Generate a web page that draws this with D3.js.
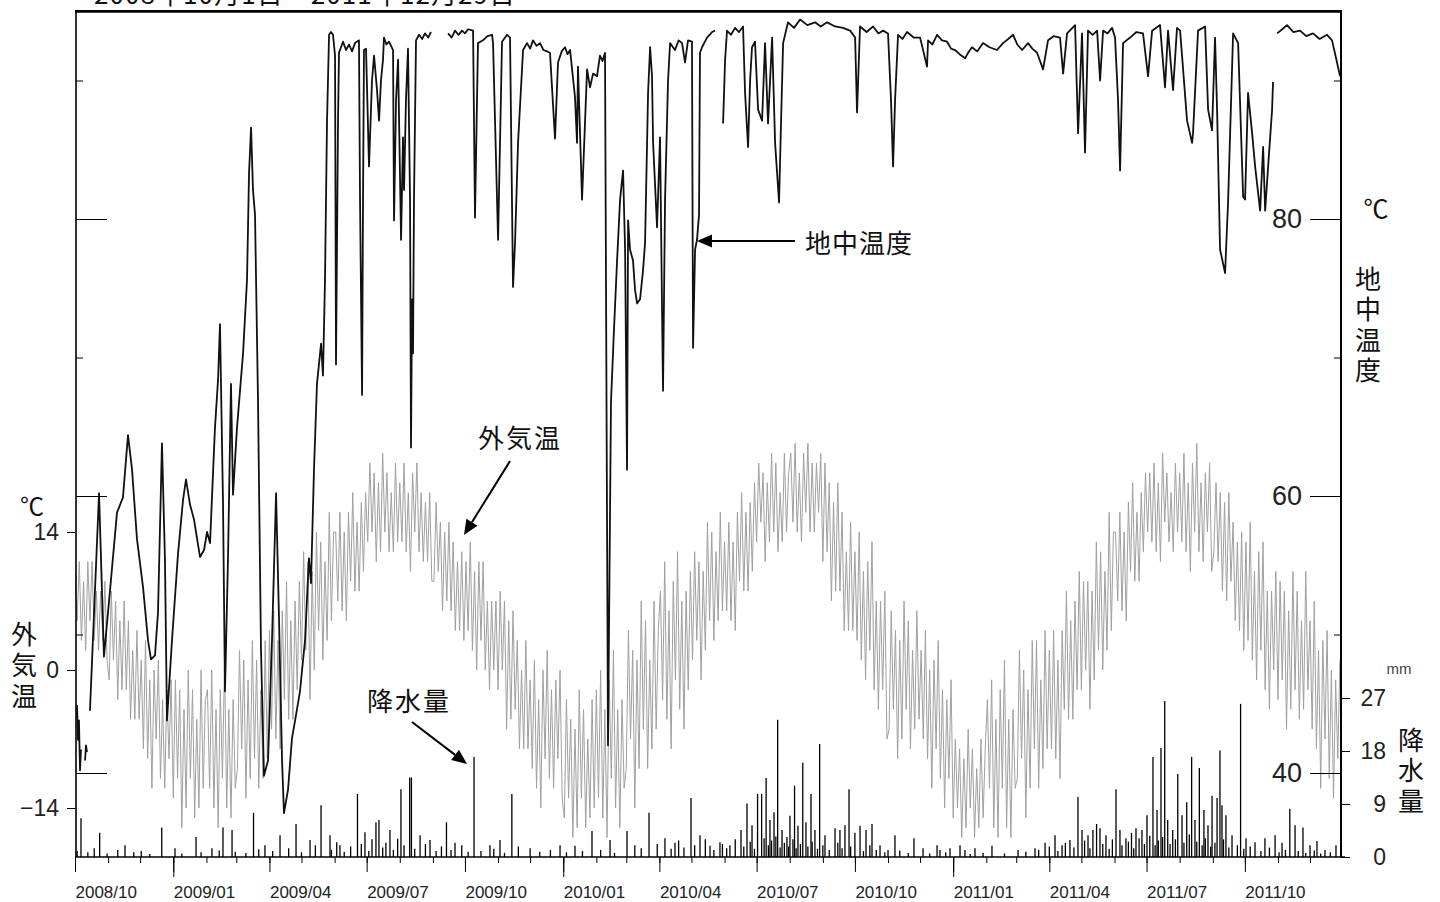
<!DOCTYPE html>
<html>
<head>
<meta charset="utf-8">
<script src="https://cdn.jsdelivr.net/npm/d3@7"></script>
<style>
  body { margin: 0; background: #fff; }
  svg { display: block; }
</style>
</head>
<body>
<div id="grafica"></div>
<script>
// ---- datos ----
inicio = new Date(Date.UTC(2008, 9, 1))   // 2008/10/01
diasTotal = 1185                          // hasta 2011/12/30

// 外気温 (°C): un valor cada 2 días desde inicio
pasoAire = 2
aireTemp = [
  10, 5, 11, 3, 9, 2, 11, 5, 11, 3, 8, 2, 8, 3, 9, 1,                 // 2008/10
  -1, 8, 1, 7, -3, 5, -2, 7, -2, 5, -5, 2, -5, 4, -5,                 // 11
  1, -8, 3, -9, -1, -12, 0, -7, 1, -11, -3, -12, -2, -9, -1,          // 12
  -13, -1, -11, -2, -16, -4, -14, 0, -11, -2, -15, -5, -14, 0, -12, -3, // 2009/01
  -2, -12, 0, -14, -4, -16, -2, -11, 1, -14, -4, -15, -3, -12,        // 02
  -10, 2, -8, 1, -13, -1, -11, 3, -9, 1, -12, -2, -11, 3, -9,         // 03
  4, -6, 6, -7, 3, -8, 6, -3, 9, -5, 5, -5, 7, -2, 9,                 // 04
  1, 12, 2, 11, -3, 10, 0, 14, 4, 13, 1, 11, 3, 16, 5, 14,            // 05
  14, 7, 16, 6, 14, 5, 16, 9, 18, 8, 15, 8, 17, 10, 18,               // 06
  13, 21, 14, 20, 11, 19, 12, 22, 14, 20, 12, 18, 12, 21, 13,         // 07
  19, 13, 21, 12, 18, 10, 20, 14, 21, 12, 18, 11, 17, 11, 18, 9,      // 08
  9, 17, 10, 15, 6, 14, 7, 15, 6, 13, 4, 11, 4, 12, 3,                // 09
  11, 4, 13, 2, 10, 0, 11, 3, 11, 0, 7, -2, 7, 0, 7,                  // 10
  -2, 8, 0, 7, -6, 5, -5, 6, -4, 3, -8, 0, -8, 3, -8,                 // 11
  -1, -10, 1, -12, -3, -14, 0, -9, 2, -11, -2, -12, -1, -9, 0, -13,   // 12
  -15, -3, -13, -5, -17, -6, -16, -2, -13, -4, -16, -7, -15, -3, -14, // 2010/01
  -2, -13, 0, -15, -4, -17, -1, -11, 2, -14, -4, -16, -3, -12,        // 02
  -10, 4, -7, 2, -14, 1, -10, 7, -6, 5, -10, 1, -8, 7, -6, 4,         // 03
  8, -3, 11, -5, 6, -8, 9, -1, 12, -4, 7, -6, 8, -2, 10,              // 04
  1, 12, 3, 11, -1, 10, 2, 15, 5, 14, 3, 12, 5, 16, 6,                // 05
  13, 6, 15, 5, 13, 4, 16, 9, 18, 8, 16, 8, 17, 10, 19,               // 06
  13, 21, 15, 20, 11, 19, 13, 22, 14, 21, 12, 18, 13, 22, 14, 20,     // 07
  22, 15, 23, 14, 20, 13, 22, 16, 23, 14, 21, 14, 21, 16, 22,         // 08
  11, 21, 12, 19, 7, 17, 8, 19, 8, 16, 4, 12, 4, 15, 4,               // 09
  12, 3, 14, 1, 10, -1, 11, 2, 13, -2, 7, -4, 7, -2, 8, -7,           // 10
  -6, 6, -4, 4, -9, 3, -7, 7, -4, 5, -8, 2, -6, 6, -5,                // 11
  2, -7, 4, -9, 0, -12, 1, -8, 3, -11, -2, -14, -3, -11, -1,          // 12
  -15, -7, -14, -8, -17, -9, -16, -6, -14, -8, -17, -10, -16, -7, -15, -8, // 2011/01
  -3, -12, -1, -16, -5, -17, -2, -12, 1, -16, -5, -17, -4, -12,       // 02
  -11, 2, -9, 0, -15, -2, -12, 3, -8, 3, -12, -1, -10, 4, -8,         // 03
  2, -8, 4, -9, 1, -11, 4, -4, 8, -5, 5, -5, 7, -2, 10,               // 04
  -2, 9, 0, 9, -4, 8, -1, 13, 2, 12, 0, 10, 2, 16, 4, 14,             // 05
  14, 7, 16, 6, 14, 5, 17, 10, 19, 9, 16, 9, 18, 12, 20,              // 06
  14, 20, 13, 21, 12, 19, 11, 22, 15, 20, 13, 18, 12, 21, 14,         // 07
  20, 13, 22, 12, 19, 10, 21, 14, 23, 12, 19, 11, 20, 14, 21, 10,     // 08
  12, 19, 11, 18, 8, 17, 7, 18, 9, 15, 5, 13, 4, 14, 2,               // 09
  13, 3, 15, 1, 10, -1, 12, 2, 13, -2, 8, -4, 8, 0, 10,               // 10
  -3, 9, -1, 8, -6, 6, -4, 10, -2, 8, -5, 5, -4, 10, -2,              // 11
  5, -6, 7, -8, 2, -12, 3, -7, 4, -11, 0, -13, -1, -9, 1              // 12
]

// 地中温度 (°C): [días desde inicio, valor], null = sin datos
sueloTemp = [
  [1.9, 44.9], [2.8, 42.4], [3.7, 43.8], [4.7, 40.2], [5.6, 41.7], null,
  [9.4, 40.9], [10.3, 42.0], [11.2, 41.5], null,
  [14.0, 44.5], [22.5, 60.2], [27.1, 48.4], [32.8, 53.2], [39.3, 58.8], [44.9, 59.9],
  [49.6, 64.4], [53.4, 61.9], [58.0, 56.9], [63.7, 53.4], [68.3, 49.6], [71.1, 48.2],
  [74.9, 48.5], [77.7, 51.6], [81.4, 63.8], [84.2, 55.4], [86.1, 43.8], [90.8, 49.6],
  [96.4, 55.8], [101.1, 59.7], [103.9, 61.2], [107.6, 59.4], [111.4, 58.3], [117.0, 55.6],
  [120.8, 56.1], [123.6, 57.4], [126.4, 56.6], [131.0, 64.9], [133.9, 68.4], [135.7, 72.4],
  [138.5, 59.7], [140.4, 45.9], [143.2, 55.4], [146.0, 68.1], [147.9, 60.1], [151.6, 64.9],
  [157.3, 70.3], [161.0, 75.6], [162.9, 83.3], [164.8, 86.6], [166.6, 82.1], [168.5, 80.3],
  [171.3, 66.9], [174.1, 48.9], [176.9, 39.8], [180.7, 40.9], [184.4, 49.6], [188.2, 60.2],
  [191.0, 51.0], [193.8, 40.9], [195.6, 37.1], [199.4, 38.8], [203.1, 42.5], [206.9, 44.2],
  [210.6, 45.9], [215.3, 49.6], [219.0, 55.5], [220.9, 53.7], [223.7, 61.9], [226.5, 68.1],
  [230.3, 71.0], [232.1, 68.7], [234.0, 75.6], [235.9, 87.1], [237.8, 93.3], [239.6, 93.5],
  [241.5, 93.3], [243.4, 91.8], [244.3, 69.5], [246.2, 87.1], [247.1, 92.0], [250.9, 92.8],
  [253.7, 92.2], [256.5, 92.6], [259.3, 92.1], [262.1, 92.7], [265.8, 92.9], [266.8, 81.4],
  [268.7, 67.3], [269.6, 81.4], [270.5, 92.2], [272.4, 92.3], [275.2, 83.8], [278.0, 90.0],
  [279.9, 91.8], [282.7, 89.3], [284.6, 87.1], [286.4, 90.0], [288.3, 91.5], [289.2, 93.1],
  [291.5, 92.6], [293.9, 92.8], [297.7, 92.2], [298.6, 79.9], [300.5, 88.6], [302.4, 91.5],
  [305.2, 78.5], [307.0, 85.9], [308.0, 82.1], [309.8, 88.6], [311.7, 92.3], [313.6, 81.4],
  [314.5, 63.5], [315.5, 74.2], [316.4, 70.3], [317.3, 81.4], [319.2, 92.9], [322.0, 93.3],
  [325.0, 93.0], [327.6, 93.4], [330.5, 93.1], [333.2, 93.5], null,
  [349.2, 93.4], [352.5, 93.1], [355.7, 93.6], [359.0, 93.3], [362.3, 93.6], [365.0, 93.4],
  [367.9, 93.7], [372.6, 93.6], [374.4, 80.1], [377.2, 92.7], [381.9, 92.9], [386.0, 93.2],
  [390.4, 93.3], [391.3, 92.7], [396.0, 78.5], [399.7, 92.8], [404.4, 93.3], [407.2, 93.1],
  [410.0, 75.1], [411.9, 78.3], [414.7, 85.5], [419.4, 92.2], [423.1, 92.7], [426.0, 92.3],
  [428.7, 92.9], [432.0, 92.5], [435.3, 92.7], [438.5, 92.2], [441.8, 92.1], [444.6, 92.0],
  [449.3, 85.8], [452.1, 91.3], [455.5, 92.1], [458.7, 92.4], [461.0, 91.9], [463.4, 92.2],
  [468.0, 88.8], [469.9, 85.5], [470.8, 91.0], [474.6, 81.4], [479.3, 90.8], [482.1, 89.5],
  [484.9, 90.5], [488.6, 90.3], [491.4, 91.8], [493.8, 91.4], [496.1, 92.0], [498.9, 42.0],
  [501.7, 66.8], [504.5, 72.0], [507.4, 77.0], [510.2, 81.4], [513.0, 83.5], [514.9, 77.8],
  [516.7, 61.9], [517.7, 79.9], [519.5, 77.8], [522.3, 77.0], [524.2, 74.9], [526.1, 73.9],
  [528.9, 74.2], [531.7, 76.3], [533.6, 78.3], [536.4, 89.1], [538.3, 92.4], [540.1, 90.3],
  [541.1, 85.5], [544.8, 79.4], [547.6, 85.9], [549.5, 73.4], [550.4, 67.6], [552.3, 81.4],
  [555.1, 90.0], [557.0, 92.7], [561.6, 92.2], [565.0, 92.9], [568.2, 92.7], [571.0, 91.3],
  [573.8, 92.9], [577.5, 92.8], [578.5, 70.7], [580.4, 77.8], [582.2, 78.5], [584.1, 80.3],
  [585.0, 92.0], [586.9, 92.4], [591.6, 93.1], [596.3, 93.5], [599.1, 93.6], null,
  [606.6, 86.9], [608.5, 91.5], [610.3, 93.6], [614.0, 93.3], [617.8, 93.8], [621.5, 93.5],
  [625.3, 93.9], [627.2, 89.1], [630.0, 85.2], [631.9, 90.0], [633.7, 92.4], [636.5, 92.8],
  [639.4, 87.9], [643.1, 87.1], [645.9, 92.7], [648.7, 86.9], [652.5, 93.1], [655.3, 85.5],
  [659.0, 81.2], [660.9, 87.1], [662.8, 92.7], [667.4, 94.2], [673.0, 93.8], [678.7, 94.4],
  [685.5, 94.0], [692.7, 94.2], [698.0, 93.9], [704.0, 94.2], [711.4, 93.9], [718.9, 93.8],
  [725.5, 93.6], [730.2, 93.1], [732.0, 87.7], [734.8, 93.9], [741.0, 93.5], [747.0, 93.9],
  [752.0, 93.4], [756.4, 93.6], [761.0, 93.4], [763.8, 88.6], [765.7, 83.8], [767.6, 88.6],
  [770.4, 93.3], [774.5, 93.0], [778.8, 93.5], [785.0, 93.1], [791.0, 93.1], [797.5, 91.0],
  [798.5, 92.9], [802.5, 92.6], [806.9, 93.3], [811.5, 92.9], [816.3, 92.8], [820.0, 92.3],
  [823.7, 92.2], [828.0, 91.9], [833.1, 91.6], [836.0, 92.0], [839.6, 92.4], [844.5, 92.1],
  [849.9, 92.7], [856.0, 92.4], [863.0, 92.2], [868.7, 92.7], [873.5, 93.0], [878.0, 93.3],
  [882.0, 92.6], [886.5, 92.2], [892.1, 92.7], [896.0, 92.3], [900.5, 92.0], [906.1, 90.8],
  [910.8, 92.9], [916.0, 93.2], [922.0, 93.1], [924.9, 90.5], [928.6, 93.4], [936.1, 94.0],
  [938.9, 86.2], [942.6, 93.4], [945.4, 84.8], [948.2, 93.6], [952.5, 93.3], [956.7, 93.6],
  [959.5, 90.0], [962.3, 93.6], [966.5, 93.4], [970.7, 93.8], [973.5, 93.1], [976.3, 88.6],
  [978.2, 83.5], [981.0, 92.7], [987.6, 93.1], [993.5, 93.5], [999.7, 93.4], [1004.4, 90.3],
  [1008.2, 93.6], [1015.6, 94.0], [1020.3, 89.5], [1023.1, 93.6], [1027.8, 89.3], [1031.5, 93.8],
  [1034.4, 93.6], [1040.9, 87.1], [1045.6, 85.5], [1046.5, 86.2], [1051.2, 93.6], [1057.8, 93.9],
  [1060.6, 87.9], [1064.3, 86.4], [1067.1, 93.1], [1069.0, 87.9], [1071.8, 77.8], [1076.5, 76.1],
  [1079.3, 81.2], [1084.0, 93.4], [1088.7, 92.7], [1093.4, 81.6], [1095.2, 81.4], [1098.0, 89.1],
  [1101.8, 86.2], [1104.6, 83.8], [1109.3, 80.6], [1112.1, 85.2], [1114.0, 80.6], [1116.8, 83.8],
  [1120.5, 87.9], [1121.4, 89.9], null,
  [1125.2, 93.4], [1130.0, 93.7], [1134.5, 94.0], [1140.5, 93.5], [1146.7, 93.6], [1152.5, 93.2],
  [1158.8, 93.4], [1165.0, 93.0], [1171.9, 93.3], [1176.6, 92.9], [1181.3, 91.3], [1184.1, 90.3]
]

// 降水量 (mm): [días desde inicio, mm]
lluvia = [
  [2, 1.0], [5.6, 6.6], [12, 0.8], [18, 1.5], [23.1, 4.1], [30, 0.6], [40, 1.2], [46.8, 2.0],
  [55, 0.8], [62, 1.0], [70, 0.5], [81.2, 5.0], [93.6, 1.5], [100, 0.6], [113.3, 3.4], [118, 0.8],
  [128.2, 1.5], [135, 1.1], [138.5, 5.0], [147, 4.6], [150, 0.9], [160, 0.7], [167.1, 7.5],
  [172, 1.3], [177.8, 2.0], [185, 1.0], [191.9, 3.7], [200, 1.5], [206.9, 5.6], [212, 0.8],
  [220, 2.9], [225, 2.0], [230.3, 8.8], [238.7, 3.7], [240, 1.2], [245, 2.5], [248, 2.0],
  [252, 0.9], [258, 1.8], [264.4, 10.7], [268, 2.2], [271.4, 4.2], [275, 1.0], [278, 3.0],
  [281.7, 5.9], [284.5, 6.3], [288, 1.6], [291, 2.4], [294.8, 4.6], [298, 1.2], [302, 3.1],
  [305.1, 11.5], [308, 2.0], [313.3, 13.5], [314.9, 13.5], [318, 1.4], [323, 3.7], [328, 2.2],
  [332.3, 2.9], [338, 1.0], [343, 1.8], [347.7, 5.9], [352, 1.2], [355.7, 2.4], [362, 2.0],
  [368, 0.9], [373.5, 17.0], [380, 1.0], [388.4, 2.0], [392, 1.4], [397.8, 2.9], [402, 0.7],
  [408.9, 10.7], [415, 1.8], [426, 1.5], [435, 0.9], [445, 1.2], [454, 2.0], [460, 0.8],
  [468, 1.9], [475, 1.0], [483.9, 4.4], [492, 1.2], [500.8, 2.9], [505, 0.7], [516.7, 4.4],
  [524, 2.0], [530, 1.5], [537.3, 7.5], [545, 2.2], [552.2, 3.2], [558, 1.4], [561.6, 2.4],
  [565, 2.8], [570, 1.6], [576.6, 10.0], [580, 2.0], [585, 3.7], [590, 3.0], [594.4, 1.9],
  [598, 1.2], [603.7, 2.5], [606, 2.2], [610, 1.5], [613, 2.0], [618, 3.0], [623.4, 4.6],
  [626, 1.8], [629, 9.1], [632, 2.6], [633.7, 5.4], [636, 1.4], [638.9, 10.7], [642.7, 10.7],
  [645, 3.2], [646.9, 13.4], [649, 2.0], [650.5, 6.3], [652, 2.8], [654.3, 7.6], [656, 3.5],
  [657.7, 23.3], [660, 1.6], [661.8, 4.6], [664, 2.4], [666.4, 3.4], [668, 1.8], [669.2, 7.0],
  [672, 3.0], [673.5, 12.1], [675, 1.5], [676.7, 5.3], [679, 2.2], [681.2, 16.0], [684.2, 5.9],
  [686, 1.8], [688.9, 10.7], [690, 2.6], [692.6, 4.6], [695, 1.4], [697, 19.2], [700, 2.0],
  [702, 3.7], [706, 1.2], [711.4, 4.9], [714, 2.4], [716, 4.6], [718, 1.5], [720.7, 5.4],
  [724.5, 11.5], [726, 1.8], [730, 4.1], [734.8, 5.3], [738, 1.0], [740.4, 4.6], [744, 2.0],
  [746, 5.6], [750, 1.2], [753.5, 2.0], [758, 0.8], [761, 1.2], [767.5, 3.7], [772, 1.1],
  [780, 0.7], [785.3, 3.2], [793.8, 1.5], [800, 0.6], [806.9, 2.0], [809.6, 1.2], [815, 0.8],
  [819, 1.5], [828.4, 2.0], [833, 1.2], [838, 0.5], [842.4, 1.5], [850, 0.7], [858.3, 1.9],
  [870, 0.6], [882.7, 1.2], [890, 0.9], [898.6, 1.5], [902, 1.2], [908, 2.4], [912, 1.8],
  [917.3, 3.7], [920, 1.0], [923.9, 2.0], [927, 2.4], [931.3, 2.9], [935, 1.6], [938.8, 10.2],
  [942.6, 4.6], [945, 2.8], [948.2, 3.7], [950, 1.5], [952.8, 4.6], [956.2, 5.6], [959.4, 4.9],
  [962, 2.2], [965, 3.7], [968, 1.4], [971, 3.0], [974.4, 11.5], [978.1, 4.6], [980, 2.0],
  [983.7, 3.2], [986, 2.6], [988.9, 4.1], [991, 1.5], [993.1, 4.9], [996, 3.2], [998.7, 4.6],
  [1001, 2.2], [1003.4, 7.1], [1006, 3.6], [1009, 17.0], [1011, 2.0], [1012.8, 8.0], [1014, 2.8],
  [1016.5, 18.5], [1018, 3.4], [1020, 26.5], [1022.8, 6.3], [1025, 2.2], [1027.5, 4.6], [1030, 3.0],
  [1032.2, 14.1], [1036.2, 7.1], [1038, 2.4], [1040.6, 9.3], [1043, 3.8], [1045.2, 17.0], [1048.3, 6.3],
  [1050, 2.6], [1052.4, 15.1], [1055, 2.0], [1056.7, 8.0], [1058, 3.2], [1060.5, 5.4], [1063, 1.8],
  [1064.3, 10.4], [1067, 2.4], [1069, 10.0], [1071.7, 18.1], [1073.6, 8.8], [1075, 3.0], [1077.3, 7.1],
  [1080, 1.6], [1083, 3.7], [1088, 2.0], [1091, 26.0], [1094, 1.4], [1096.1, 3.2], [1100, 1.8],
  [1104.5, 2.5], [1110, 1.0], [1113.8, 3.2], [1118, 1.6], [1123.3, 3.7], [1127, 0.8], [1129.8, 2.4],
  [1133, 1.2], [1137.1, 8.2], [1142, 5.4], [1145, 1.0], [1149.4, 5.0], [1152, 0.7], [1156, 2.0],
  [1160, 1.1], [1162.5, 2.7], [1166, 0.6], [1170, 1.2], [1175, 0.8], [1180.3, 2.0]
]

// ticks de los ejes
ticksAire = [-14, 0, 14]
ticksSueloLargo = [40, 60, 80]
ticksSueloCorto = [50, 70, 90]
ticksLluvia = [0, 9, 18, 27]
titulo = '2008年10月1日～2011年12月29日'

// ---- lienzo ----
ancho_total = 1440
alto_total  = 902
margin = { left: 75, right: 99, top: 10, bottom: 45 }

ancho = ancho_total - margin.left - margin.right
alto  = alto_total - margin.top - margin.bottom

fuente = "'Liberation Sans', Arial, sans-serif"
fuenteJP = "'Noto Sans CJK JP', 'Noto Sans CJK SC', sans-serif"

svg = d3
        .select('#grafica')
        .append('svg')
        .attr('width', ancho_total)
        .attr('height', alto_total)

g = svg
      .append('g')
      .attr('transform', `translate(${margin.left}, ${margin.top})`)

dia = (d) => new Date(inicio.getTime() + d * 864e5)

// escaladores
x      = d3.scaleUtc().domain([inicio, dia(diasTotal)]).range([0, ancho])
yAire  = d3.scaleLinear().domain([-14, 14]).range([798, 522])
ySuelo = d3.scaleLinear().domain([40, 80]).range([763, 209])
yLluv  = d3.scaleLinear().domain([0, 27]).range([alto, 688])

svg.append('defs')
   .append('clipPath').attr('id', 'recorte')
   .append('rect').attr('x', 0).attr('y', 0).attr('width', ancho).attr('height', alto)

plot = g.append('g').attr('clip-path', 'url(#recorte)')

// 外気温
aire = aireTemp.map((v, i) => ({ date: dia(i * pasoAire), v: v }))
plot.append('path')
    .datum(aire)
    .attr('d', d3.line().x((d) => x(d.date)).y((d) => yAire(d.v)))
    .attr('fill', 'none')
    .attr('stroke', '#a0a0a0')
    .attr('stroke-width', 1)

// 降水量
plot.selectAll('line.lluvia')
    .data(lluvia)
    .join('line')
      .attr('class', 'lluvia')
      .attr('x1', (d) => x(dia(d[0])))
      .attr('x2', (d) => x(dia(d[0])))
      .attr('y1', yLluv(0))
      .attr('y2', (d) => yLluv(d[1]))
      .attr('stroke', '#000')
      .attr('stroke-width', 1.3)

// 地中温度
suelo = sueloTemp.map((p) => p && { date: dia(p[0]), v: p[1] })
plot.append('path')
    .datum(suelo)
    .attr('d', d3.line().defined((d) => d).x((d) => x(d.date)).y((d) => ySuelo(d.v)))
    .attr('fill', 'none')
    .attr('stroke', '#111')
    .attr('stroke-width', 1.8)
    .attr('stroke-linejoin', 'round')

// ---- ejes ----
function estilo(sel, size) {
  sel.select('.domain').remove()
  sel.selectAll('line').attr('stroke', '#000')
  sel.selectAll('text').attr('font-family', fuente).attr('font-size', size).attr('fill', '#222')
}

// eje X: meses, trimestres (con etiqueta) y años
g.append('g').attr('transform', `translate(0, ${alto})`)
  .call(d3.axisBottom(x).ticks(d3.utcMonth.every(1)).tickSize(6).tickFormat(''))
  .call(estilo, 16)
g.append('g').attr('transform', `translate(0, ${alto})`)
  .call(d3.axisBottom(x).ticks(d3.utcYear.every(1)).tickSize(20).tickFormat(''))
  .call(estilo, 16)
xTri = g.append('g').attr('transform', `translate(0, ${alto})`)
  .call(d3.axisBottom(x).ticks(d3.utcMonth.every(3)).tickSize(15).tickFormat(d3.utcFormat('%Y/%m')))
  .call(estilo, 17)
xTri.selectAll('text').attr('text-anchor', 'start').attr('x', 0).attr('y', 29)

// eje izquierdo 外気温
g.append('g')
  .call(d3.axisLeft(yAire).tickValues(ticksAire).tickSize(8).tickPadding(8))
  .call(estilo, 23)

// ticks internos de 地中温度
g.append('g').attr('transform', 'translate(1, 0)')
  .call(d3.axisRight(ySuelo).tickValues(ticksSueloLargo).tickSize(31).tickFormat(''))
  .call(estilo, 26)
g.append('g').attr('transform', 'translate(1, 0)')
  .call(d3.axisRight(ySuelo).tickValues(ticksSueloCorto).tickSize(7).tickFormat(''))
  .call(estilo, 26)
g.append('g').attr('transform', `translate(${ancho}, 0)`)
  .call(d3.axisLeft(ySuelo).tickValues(ticksSueloLargo).tickSize(31).tickPadding(8))
  .call(estilo, 27)
g.append('g').attr('transform', `translate(${ancho}, 0)`)
  .call(d3.axisLeft(ySuelo).tickValues(ticksSueloCorto).tickSize(7).tickFormat(''))
  .call(estilo, 26)

// eje derecho 降水量
ejeLluvia = g.append('g').attr('transform', `translate(${ancho}, 0)`)
  .call(d3.axisRight(yLluv).tickValues(ticksLluvia).tickSize(9))
  .call(estilo, 23)
ejeLluvia.selectAll('text').attr('text-anchor', 'end').attr('x', 45)

// marco
g.append('line').attr('x1', 1).attr('x2', 1).attr('y1', 0).attr('y2', alto)
  .attr('stroke', '#000').attr('stroke-width', 1.6)
g.append('line').attr('x1', ancho).attr('x2', ancho).attr('y1', 0).attr('y2', alto)
  .attr('stroke', '#000').attr('stroke-width', 2)
g.append('line').attr('x1', 0).attr('x2', ancho + 1).attr('y1', 1.3).attr('y2', 1.3)
  .attr('stroke', '#000').attr('stroke-width', 2.8)
g.append('line').attr('x1', 0).attr('x2', ancho + 4).attr('y1', alto).attr('y2', alto)
  .attr('stroke', '#000').attr('stroke-width', 1.6)

// ---- textos ----
function texto(tx, px, py, size, anchor) {
  return svg.append('text')
    .attr('x', px).attr('y', py)
    .attr('font-family', fuenteJP)
    .attr('font-size', size)
    .attr('text-anchor', anchor || 'start')
    .attr('fill', '#111')
    .text(tx)
}

// texto vertical (escritura tategaki), py = borde superior
function vertical(tx, px, py, size, paso) {
  return texto(tx, px, py, size)
    .attr('writing-mode', 'vertical-rl')
    .attr('letter-spacing', paso - size)
}

texto(titulo, 94, 4, 26).attr('textLength', 421).attr('lengthAdjust', 'spacing')

texto('℃', 32, 515, 24, 'middle')
vertical('外気温', 24, 621, 26, 31)

texto('℃', 1376, 218, 25, 'middle')
vertical('地中温度', 1368, 266, 26, 30.4)

texto('mm', 1399, 674, 15, 'middle').attr('font-family', fuente).attr('fill', '#444')
vertical('降水量', 1411, 727, 26, 30.5)

texto('地中温度', 805, 253, 26).attr('letter-spacing', 1)
texto('外気温', 478, 448, 26).attr('letter-spacing', 2)
texto('降水量', 367, 711, 26).attr('letter-spacing', 2)

// flechas
function flecha(x1, y1, x2, y2) {
  const a = Math.atan2(y2 - y1, x2 - x1)
  const L = 15, W = 6.5
  const bx = x2 - L * Math.cos(a), by = y2 - L * Math.sin(a)
  svg.append('line').attr('x1', x1).attr('y1', y1).attr('x2', bx).attr('y2', by)
     .attr('stroke', '#000').attr('stroke-width', 2)
  svg.append('polygon')
     .attr('points', [[x2, y2],
                      [bx + W * Math.sin(a), by - W * Math.cos(a)],
                      [bx - W * Math.sin(a), by + W * Math.cos(a)]].map((p) => p.join(',')).join(' '))
     .attr('fill', '#000')
}

flecha(795, 241, 697, 241)
flecha(510, 461, 464, 535)
flecha(412, 722, 467, 764)
</script>
</body>
</html>
